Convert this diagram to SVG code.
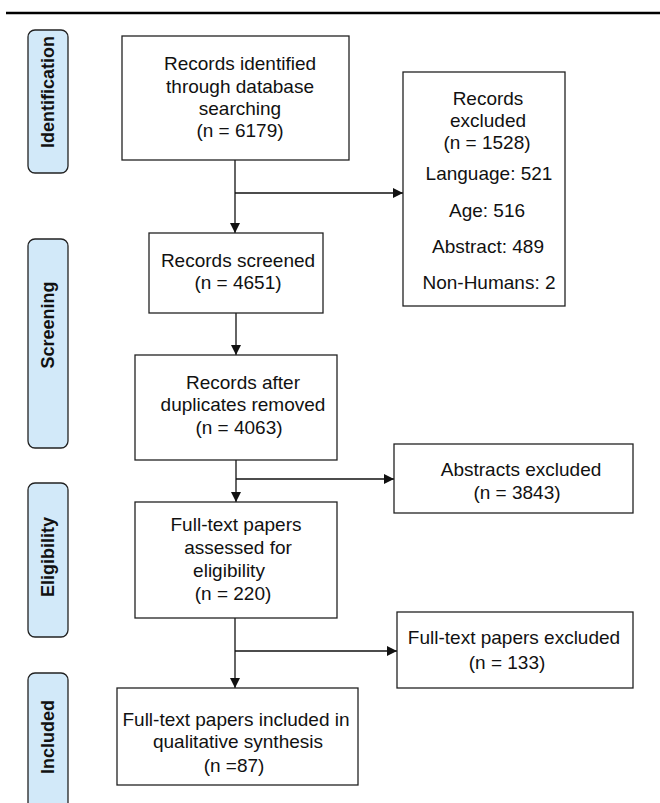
<svg xmlns="http://www.w3.org/2000/svg" width="660" height="803" viewBox="0 0 660 803">
<style>
.box{fill:#fff;stroke:#222;stroke-width:1.3}
.pill{fill:#d2e9f9;stroke:#222;stroke-width:1.3}
.t{font-family:"Liberation Sans",Arial,sans-serif;font-size:19px;fill:#111;text-anchor:middle;dominant-baseline:central}
.pt{font-family:"Liberation Sans",Arial,sans-serif;font-size:18px;font-weight:bold;fill:#111;text-anchor:middle;dominant-baseline:central}
.c{stroke:#111;stroke-width:1.3;fill:none}
</style>
<defs>
<marker id="ah" viewBox="0 0 10 10" refX="10" refY="5" markerWidth="10" markerHeight="10" markerUnits="userSpaceOnUse" orient="auto">
<path d="M0,0 L10,5 L0,10 Z" fill="#111"/>
</marker>
</defs>
<rect width="660" height="803" fill="#fff"/>
<line x1="6" y1="13" x2="660" y2="13" stroke="#000" stroke-width="2.5"/>

<g id="phase-identification">
<rect class="pill" x="28" y="30" width="40" height="143" rx="7"/>
<text class="pt" transform="translate(48,92) rotate(-90)">Identification</text>
</g>
<g id="phase-screening">
<rect class="pill" x="28" y="239" width="40" height="209" rx="7"/>
<text class="pt" transform="translate(48,325) rotate(-90)">Screening</text>
</g>
<g id="phase-eligibility">
<rect class="pill" x="28" y="483" width="40" height="154" rx="7"/>
<text class="pt" transform="translate(48,557) rotate(-90)">Eligibility</text>
</g>
<g id="phase-included">
<rect class="pill" x="28" y="673" width="40" height="145" rx="7"/>
<text class="pt" transform="translate(48,737) rotate(-90)">Included</text>
</g>

<g id="connectors">
<line class="c" x1="235" y1="160" x2="235" y2="233" marker-end="url(#ah)"/>
<line class="c" x1="235" y1="193" x2="403" y2="193" marker-end="url(#ah)"/>
<line class="c" x1="236" y1="313" x2="236" y2="355" marker-end="url(#ah)"/>
<line class="c" x1="236" y1="460" x2="236" y2="502" marker-end="url(#ah)"/>
<line class="c" x1="236" y1="479" x2="394" y2="479" marker-end="url(#ah)"/>
<line class="c" x1="235" y1="618" x2="235" y2="688" marker-end="url(#ah)"/>
<line class="c" x1="235" y1="651" x2="397" y2="651" marker-end="url(#ah)"/>
</g>

<g id="identified">
<rect class="box" x="122" y="36" width="227" height="124"/>
<text class="t" x="240" y="63">Records identified</text>
<text class="t" x="240" y="86">through database</text>
<text class="t" x="240" y="108">searching</text>
<text class="t" x="240" y="130">(n = 6179)</text>
</g>
<g id="excluded">
<rect class="box" x="403" y="72" width="162" height="234"/>
<text class="t" x="488" y="98">Records</text>
<text class="t" x="488" y="120">excluded</text>
<text class="t" x="487" y="142">(n = 1528)</text>
<text class="t" x="489" y="173">Language: 521</text>
<text class="t" x="487" y="210">Age: 516</text>
<text class="t" x="488" y="246">Abstract: 489</text>
<text class="t" x="489" y="282">Non-Humans: 2</text>
</g>
<g id="screened">
<rect class="box" x="149" y="233" width="174" height="80"/>
<text class="t" x="238" y="260">Records screened</text>
<text class="t" x="238" y="282">(n = 4651)</text>
</g>
<g id="dedup">
<rect class="box" x="135" y="355" width="202" height="105"/>
<text class="t" x="243" y="382">Records after</text>
<text class="t" x="243" y="404">duplicates removed</text>
<text class="t" x="239" y="427">(n = 4063)</text>
</g>
<g id="abstracts-excluded">
<rect class="box" x="394" y="444" width="239" height="69"/>
<text class="t" x="521" y="469">Abstracts excluded</text>
<text class="t" x="517" y="492">(n = 3843)</text>
</g>
<g id="fulltext-assessed">
<rect class="box" x="135" y="502" width="202" height="116"/>
<text class="t" x="236" y="524">Full-text papers</text>
<text class="t" x="238" y="547">assessed for</text>
<text class="t" x="229" y="570">eligibility</text>
<text class="t" x="233" y="593">(n = 220)</text>
</g>
<g id="fulltext-excluded">
<rect class="box" x="397" y="612" width="236" height="76"/>
<text class="t" x="514" y="637">Full-text papers excluded</text>
<text class="t" x="507" y="662">(n = 133)</text>
</g>
<g id="included">
<rect class="box" x="117" y="688" width="241" height="97"/>
<text class="t" x="236" y="719">Full-text papers included in</text>
<text class="t" x="238" y="741">qualitative synthesis</text>
<text class="t" x="234" y="765">(n =87)</text>
</g>
</svg>
